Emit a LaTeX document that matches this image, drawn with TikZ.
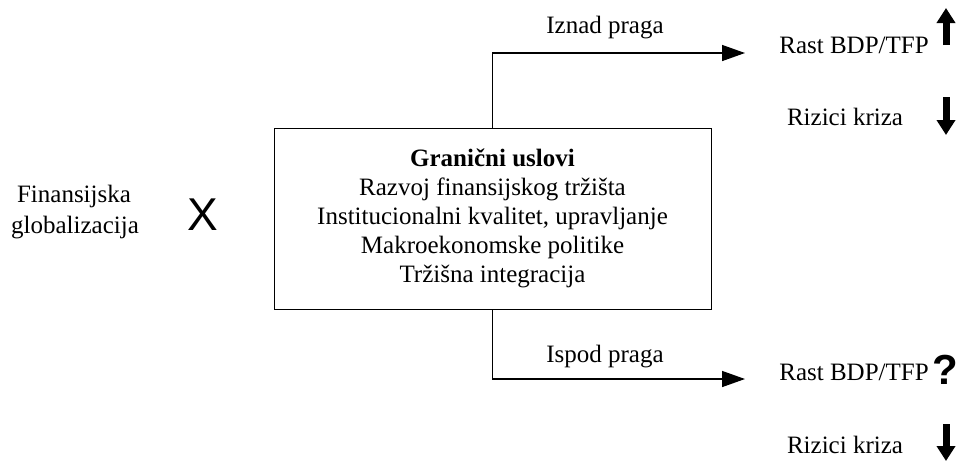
\documentclass[tikz,border=0pt]{standalone}
\usepackage{fontspec}
\setmainfont{Liberation Serif}
\newfontfamily\arialfont{Liberation Sans}
\usetikzlibrary{arrows.meta}
\begin{document}
\begin{tikzpicture}[x=1pt,y=-1pt,
  txt/.style={font=\fontsize{25}{29}\selectfont, inner sep=0pt, anchor=base},
  mainbox/.style={draw, line width=1pt, minimum width=437pt, minimum height=181pt, align=center, inner sep=0pt, font=\fontsize{25}{29}\selectfont},
  flow/.style={line width=1.4pt, -{Triangle[length=23pt,width=16pt]}},
  bigarrow/.style={line width=7pt, -{Triangle[length=15pt,width=18pt]}},
  symb/.style={inner sep=0pt, anchor=center}]
\useasboundingbox (0,0) rectangle (956,461);
\node[mainbox] (box) at (492.5,218.5) {\textbf{Granični uslovi}\\Razvoj finansijskog tržišta\\Institucionalni kvalitet, upravljanje\\Makroekonomske politike\\Tržišna integracija};
\coordinate (t1) at (745,53);
\coordinate (t2) at (745,379);
\draw[flow] (box.north) |- (t1);
\draw[flow] (box.south) |- (t2);
\node[txt] (iznad) at (605,33) {Iznad praga};
\node[txt] (ispod) at (605,362) {Ispod praga};
\node[txt] (rast1) at (854,53) {Rast BDP/TFP};
\node[txt] (riz1) at (845,125) {Rizici kriza};
\node[txt] (rast2) at (854,380) {Rast BDP/TFP};
\node[txt] (riz2) at (845,453) {Rizici kriza};
\node[txt] (fin1) at (74,202) {Finansijska};
\node[txt] (fin2) at (75,233) {globalizacija};
\node[symb, font=\arialfont\fontsize{46}{46}\selectfont] (x) at (203,215) {X};
\node[symb, font=\arialfont\bfseries\fontsize{42}{42}\selectfont] (q) at (945,370) {?};
\coordinate (u1a) at (946,45);
\coordinate (u1b) at (946,8);
\coordinate (d1a) at (946,97);
\coordinate (d1b) at (946,135);
\coordinate (d2a) at (946,424);
\coordinate (d2b) at (946,461);
\draw[bigarrow] (u1a) -- (u1b);
\draw[bigarrow] (d1a) -- (d1b);
\draw[bigarrow] (d2a) -- (d2b);
\end{tikzpicture}
\end{document}
